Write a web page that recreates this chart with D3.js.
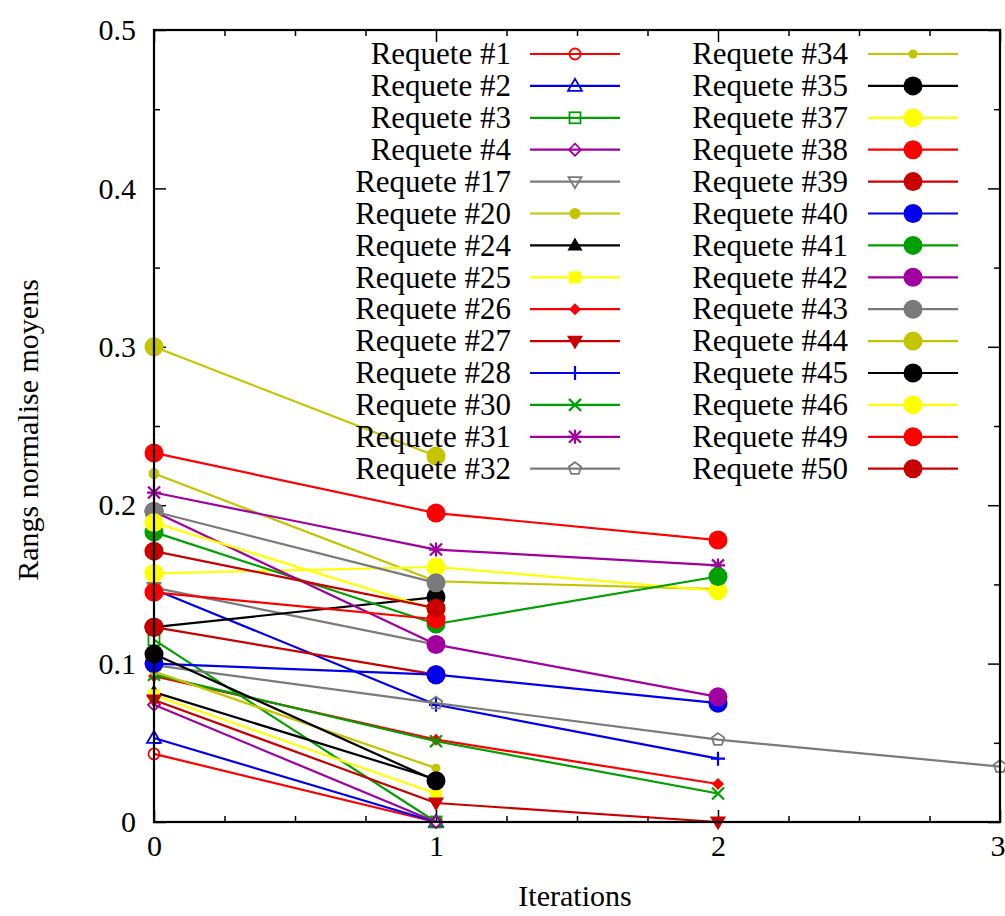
<!DOCTYPE html>
<html>
<head>
<meta charset="utf-8">
<script src="https://cdn.jsdelivr.net/npm/d3@7"></script>
<style>
  html, body { margin: 0; padding: 0; background: #fff; }
  svg { display: block; }
  text { font-family: "Liberation Serif", "Times New Roman", serif; fill: #000; }
</style>
</head>
<body>
<svg id="chart" width="1005" height="916"></svg>
<script>
// ---------- data ----------
const iterations = [0, 1, 2, 3];
const xTickLabels = ["0", "1", "2", "3"];
const yTickValues = [0, 0.1, 0.2, 0.3, 0.4, 0.5];
const yTickLabels = ["0", "0.1", "0.2", "0.3", "0.4", "0.5"];

const seriesNames = [
  "Requete #1", "Requete #2", "Requete #3", "Requete #4", "Requete #17",
  "Requete #20", "Requete #24", "Requete #25", "Requete #26", "Requete #27",
  "Requete #28", "Requete #30", "Requete #31", "Requete #32",
  "Requete #34", "Requete #35", "Requete #37", "Requete #38", "Requete #39",
  "Requete #40", "Requete #41", "Requete #42", "Requete #43", "Requete #44",
  "Requete #45", "Requete #46", "Requete #49", "Requete #50"
];

// rang normalise moyen per iteration (index = iteration)
const seriesValues = [
  [0.043, 0.000],              // #1
  [0.053, 0.000],              // #2
  [0.115, 0.000],              // #3
  [0.074, 0.000],              // #4
  [0.148, 0.112],              // #17
  [0.220, 0.152, 0.147],       // #20
  [0.082, 0.027],              // #24
  [0.080, 0.018],              // #25
  [0.092, 0.052, 0.024],       // #26
  [0.077, 0.012, 0.000],       // #27
  [0.147, 0.074, 0.040],       // #28
  [0.093, 0.051, 0.018],       // #30
  [0.208, 0.172, 0.162],       // #31
  [0.099, 0.075, 0.052, 0.035],// #32
  [0.095, 0.034],              // #34
  [0.123, 0.142],              // #35
  [0.157, 0.161, 0.146],       // #37
  [0.233, 0.195, 0.178],       // #38
  [0.123, 0.093],              // #39
  [0.100, 0.093, 0.075],       // #40
  [0.183, 0.125, 0.155],       // #41
  [0.196, 0.112, 0.079],       // #42
  [0.196, 0.151],              // #43
  [0.300, 0.231],              // #44
  [0.106, 0.026],              // #45
  [0.189, 0.134],              // #46
  [0.145, 0.128],              // #49
  [0.171, 0.135]               // #50
];

// styles (kept separate from data)
const RED = "#ff0000", BLUE = "#0000ee", GREEN = "#00a000", PURPLE = "#a000a0",
      GRAY = "#7a7a7a", OLIVE = "#c4c400", BLACK = "#000000", YELLOW = "#ffff00",
      DKRED = "#c80000";
const seriesColors = [
  RED, BLUE, GREEN, PURPLE, GRAY, OLIVE, BLACK, YELLOW, RED, DKRED,
  BLUE, GREEN, PURPLE, GRAY,
  OLIVE, BLACK, YELLOW, RED, DKRED, BLUE, GREEN, PURPLE, GRAY, OLIVE,
  BLACK, YELLOW, RED, DKRED
];
const seriesMarkers = [
  "circleOpen", "triUpOpen", "squareOpen", "diamondOpen", "triDownOpen",
  "circleFilled", "triUpFilled", "squareFilled", "diamondFilled", "triDownFilled",
  "plus", "cross", "star", "pentagonOpen",
  "dot", "big", "big", "big", "big", "big", "big", "big", "big", "big",
  "big", "big", "big", "big"
];

// ---------- layout ----------
const svg = d3.select("#chart");
const pL = 154, pR = 1000, pT = 30, pB = 822;
const x = d3.scaleLinear().domain([0, 3]).range([pL, pR]);
const y = d3.scaleLinear().domain([0, 0.5]).range([pB, pT]);

const FONT = 30;
const LEGEND_FONT = 31;

// ---------- axes ----------
function stripDomain(g) { g.select(".domain").remove(); }
function blackTicks(g) { g.selectAll("line").attr("stroke", "#000").attr("stroke-width", 1.5); }
const xMinor = d3.range(0.25, 3, 0.25).filter(v => Math.abs(v - Math.round(v)) > 1e-6);
const yMinor = [0.05, 0.15, 0.25, 0.35, 0.45];

svg.append("g").attr("transform", `translate(0,${pB})`)
  .call(d3.axisBottom(x).tickValues(iterations).tickFormat((d, i) => xTickLabels[i])
    .tickSize(-12).tickPadding(13))
  .call(stripDomain).call(blackTicks)
  .call(g => g.selectAll("text").attr("font-size", FONT).attr("font-family", "Liberation Serif"))
  // last label sits on the page edge: keep it fully inside
  .call(g => g.selectAll(".tick").filter(d => d === 3).select("text")
    .attr("text-anchor", "end").attr("x", 5));
svg.append("g").attr("transform", `translate(0,${pB})`)
  .call(d3.axisBottom(x).tickValues(xMinor).tickSize(-6).tickFormat(""))
  .call(stripDomain).call(blackTicks);
svg.append("g").attr("transform", `translate(0,${pT})`)
  .call(d3.axisTop(x).tickValues(iterations).tickSize(-12).tickFormat(""))
  .call(stripDomain).call(blackTicks);
svg.append("g").attr("transform", `translate(0,${pT})`)
  .call(d3.axisTop(x).tickValues(xMinor).tickSize(-6).tickFormat(""))
  .call(stripDomain).call(blackTicks);

svg.append("g").attr("transform", `translate(${pL},0)`)
  .call(d3.axisLeft(y).tickValues(yTickValues).tickFormat((d, i) => yTickLabels[i])
    .tickSize(-12).tickPadding(18))
  .call(stripDomain).call(blackTicks)
  .call(g => g.selectAll("text").attr("font-size", FONT).attr("font-family", "Liberation Serif"));
svg.append("g").attr("transform", `translate(${pL},0)`)
  .call(d3.axisLeft(y).tickValues(yMinor).tickSize(-6).tickFormat(""))
  .call(stripDomain).call(blackTicks);
svg.append("g").attr("transform", `translate(${pR},0)`)
  .call(d3.axisRight(y).tickValues(yTickValues).tickSize(-12).tickFormat(""))
  .call(stripDomain).call(blackTicks);
svg.append("g").attr("transform", `translate(${pR},0)`)
  .call(d3.axisRight(y).tickValues(yMinor).tickSize(-6).tickFormat(""))
  .call(stripDomain).call(blackTicks);

// axis titles
svg.append("text")
  .attr("x", 575).attr("y", 906)
  .attr("text-anchor", "middle").attr("font-size", FONT)
  .text("Iterations");
svg.append("text")
  .attr("transform", `translate(38,430) rotate(-90)`)
  .attr("text-anchor", "middle").attr("font-size", FONT)
  .text("Rangs normalise moyens");

// ---------- markers ----------
function drawMarker(g, type, cx, cy, color) {
  const sw = 1.8;
  switch (type) {
    case "circleOpen":
      g.append("circle").attr("cx", cx).attr("cy", cy).attr("r", 5.5)
        .attr("fill", "none").attr("stroke", color).attr("stroke-width", sw); break;
    case "circleFilled":
      g.append("circle").attr("cx", cx).attr("cy", cy).attr("r", 5.5).attr("fill", color); break;
    case "dot":
      g.append("circle").attr("cx", cx).attr("cy", cy).attr("r", 4.5).attr("fill", color); break;
    case "big":
      g.append("circle").attr("cx", cx).attr("cy", cy).attr("r", 9.5).attr("fill", color);
      break;
    case "triUpOpen":
    case "triUpFilled": {
      const s = type === "triUpFilled" ? 6 : 7;
      g.append("path").attr("d", `M${cx},${cy - s}L${cx + s},${cy + s * 0.7}L${cx - s},${cy + s * 0.7}Z`)
        .attr("fill", type === "triUpFilled" ? color : "none")
        .attr("stroke", color).attr("stroke-width", sw); break;
    }
    case "triDownOpen":
    case "triDownFilled": {
      const s = 6.5;
      g.append("path").attr("d", `M${cx},${cy + s}L${cx + s},${cy - s * 0.7}L${cx - s},${cy - s * 0.7}Z`)
        .attr("fill", type === "triDownFilled" ? color : "none")
        .attr("stroke", color).attr("stroke-width", sw); break;
    }
    case "squareOpen":
      g.append("rect").attr("x", cx - 5.5).attr("y", cy - 5.5).attr("width", 11).attr("height", 11)
        .attr("fill", "none").attr("stroke", color).attr("stroke-width", sw); break;
    case "squareFilled":
      g.append("rect").attr("x", cx - 6).attr("y", cy - 6).attr("width", 12).attr("height", 12)
        .attr("fill", color); break;
    case "diamondOpen":
      g.append("path").attr("d", `M${cx},${cy - 6}L${cx + 6},${cy}L${cx},${cy + 6}L${cx - 6},${cy}Z`)
        .attr("fill", "none").attr("stroke", color).attr("stroke-width", sw); break;
    case "diamondFilled":
      g.append("path").attr("d", `M${cx},${cy - 6}L${cx + 6},${cy}L${cx},${cy + 6}L${cx - 6},${cy}Z`)
        .attr("fill", color); break;
    case "plus":
      g.append("path").attr("d", `M${cx - 7},${cy}H${cx + 7}M${cx},${cy - 7}V${cy + 7}`)
        .attr("stroke", color).attr("stroke-width", 2.2); break;
    case "cross":
      g.append("path").attr("d", `M${cx - 6},${cy - 6}L${cx + 6},${cy + 6}M${cx - 6},${cy + 6}L${cx + 6},${cy - 6}`)
        .attr("stroke", color).attr("stroke-width", 2.2); break;
    case "star":
      g.append("path").attr("d", `M${cx - 6},${cy - 6}L${cx + 6},${cy + 6}M${cx - 6},${cy + 6}L${cx + 6},${cy - 6}M${cx - 7},${cy}H${cx + 7}M${cx},${cy - 7}V${cy + 7}`)
        .attr("stroke", color).attr("stroke-width", 2.2); break;
    case "pentagonOpen": {
      const pts = d3.range(5).map(k => {
        const a = -Math.PI / 2 + k * 2 * Math.PI / 5;
        return [cx + 6.5 * Math.cos(a), cy + 6.5 * Math.sin(a)];
      });
      g.append("path").attr("d", "M" + pts.map(p => p.join(",")).join("L") + "Z")
        .attr("fill", "none").attr("stroke", color).attr("stroke-width", sw); break;
    }
  }
}

// ---------- series ----------
const lineGen = d3.line().x((d, i) => x(iterations[i])).y(d => y(d));
const plot = svg.append("g");

seriesValues.forEach((vals, s) => {
  const g = plot.append("g");
  g.append("path").attr("d", lineGen(vals))
    .attr("fill", "none").attr("stroke", seriesColors[s]).attr("stroke-width", 2.2)
    .attr("stroke-linejoin", "round");
  vals.forEach((v, i) => drawMarker(g, seriesMarkers[s], x(iterations[i]), y(v), seriesColors[s]));
});

// ---------- legend ----------
const legend = svg.append("g");
const rowH = 31.9, row0 = 54;
seriesNames.forEach((name, s) => {
  const col = s < 14 ? 0 : 1;
  const row = s < 14 ? s : s - 14;
  const ty = row0 + row * rowH;
  const textX = col === 0 ? 511 : 848;
  const l0 = col === 0 ? 530 : 868;
  const l1 = col === 0 ? 620 : 958;
  legend.append("text").attr("x", textX).attr("y", ty).attr("dy", "0.33em")
    .attr("text-anchor", "end").attr("font-size", LEGEND_FONT).text(name);
  const g = legend.append("g");
  g.append("line").attr("x1", l0).attr("x2", l1).attr("y1", ty).attr("y2", ty)
    .attr("stroke", seriesColors[s]).attr("stroke-width", 2.2);
  drawMarker(g, seriesMarkers[s], (l0 + l1) / 2, ty, seriesColors[s]);
});

// ---------- border ----------
svg.append("rect").attr("x", pL).attr("y", pT).attr("width", pR - pL).attr("height", pB - pT)
  .attr("fill", "none").attr("stroke", "#000").attr("stroke-width", 2.2);
</script>
</body>
</html>
